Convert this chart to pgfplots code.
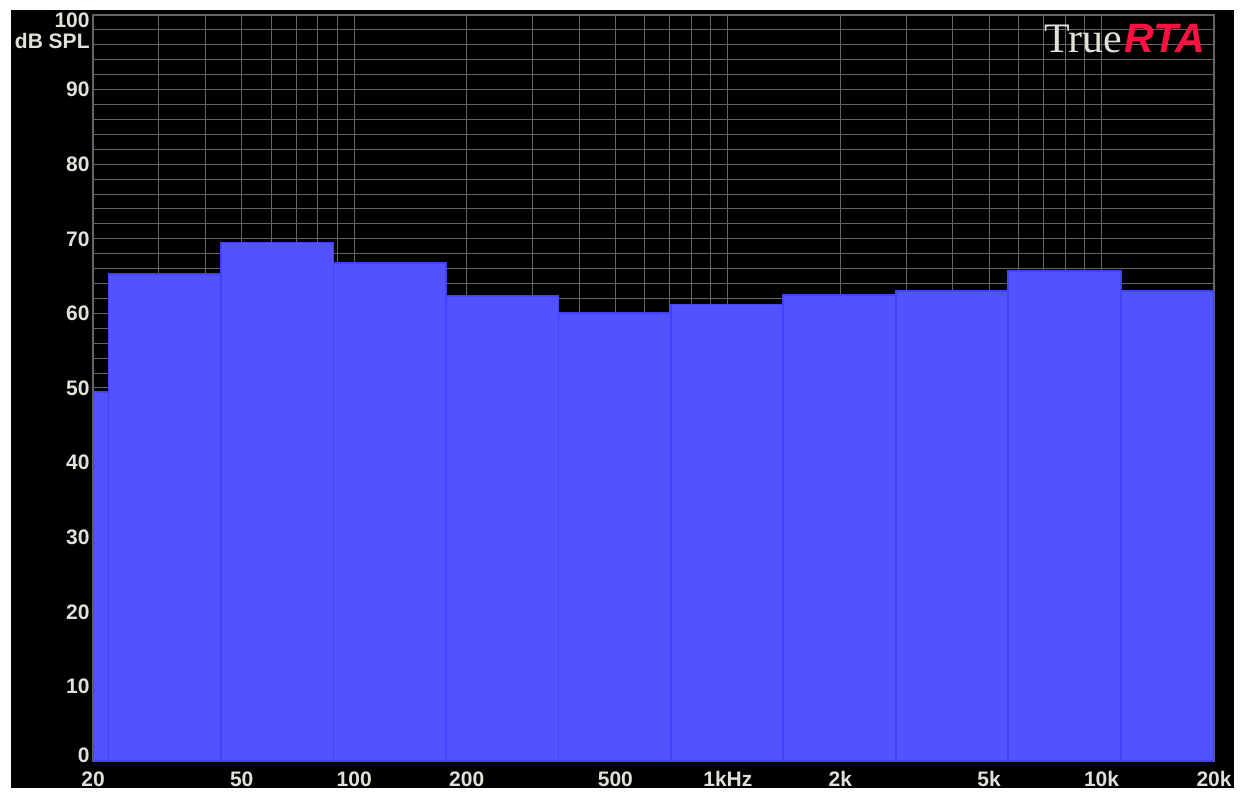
\documentclass[border=0pt]{standalone}
\usepackage{fontspec}
\setmainfont{Liberation Sans}
\newfontfamily\serifT{Liberation Serif}
\usepackage{pgfplots}
\pgfplotsset{compat=1.18}
\definecolor{barblue}{RGB}{82,82,255}
\definecolor{baredge}{RGB}{66,66,250}
\definecolor{gridgray}{RGB}{100,100,100}
\definecolor{lbl}{RGB}{225,225,218}
\definecolor{rtared}{RGB}{255,16,64}
\begin{document}
\begin{tikzpicture}
\fill[white] (0,0) rectangle (622.5pt,396pt);
\fill[black] (5.5pt,2pt) rectangle (617pt,391pt);
\begin{axis}[
  at={(46.5pt,15.5pt)}, anchor=south west,
  scale only axis, width=560.5pt, height=373pt,
  xmode=log, xmin=20, xmax=20000, ymin=0, ymax=100,
  xtick={20,50,100,200,500,1000,2000,5000,10000,20000},
  xticklabels={20,50,100,200,500,1kHz,2k,5k,10k,20k},
  minor xtick={30,40,60,70,80,90,300,400,600,700,800,900,3000,4000,6000,7000,8000,9000},
  ytick={0,10,...,90},
  yticklabels={\raisebox{3pt}[\height][\depth]{0},10,20,30,40,50,60,70,80,90},
  minor ytick={2,4,...,98},
  extra y ticks={100},
  extra y tick style={yticklabel style={anchor=north east, yshift=1.5pt}},
  grid=both,
  major grid style={gridgray, line width=0.5pt},
  minor grid style={gridgray, line width=0.5pt},
  major tick length=0pt, minor tick length=0pt,
  axis line style={gridgray, line width=0.8pt},
  tick label style={font=\fontsize{10.5}{12}\selectfont\bfseries, text=lbl},
  /pgf/number format/assume math mode=true,
  yticklabel style={anchor=east, inner sep=0pt, xshift=-1.5pt},
  xticklabel style={anchor=north, inner sep=0pt, yshift=-5pt},
]
\addplot[ybar interval, fill=barblue, draw=baredge, line width=0.9pt] coordinates {
  (20,49.5) (22,65.3) (44,69.5) (88,66.8) (176,62.3) (352,60.1)
  (704,61.2) (1408,62.5) (2816,63.0) (5632,65.7) (11264,63.0) (20000,63.0)
};
\end{axis}
\node[anchor=base east, inner sep=0pt, text=lbl, font=\fontsize{10.5}{12}\selectfont\bfseries] at (45pt,371.5pt) {dB SPL};
\node[anchor=base east, inner sep=0pt] at (602.5pt,369.5pt) {{\serifT\fontsize{21}{22}\selectfont\color{lbl}True}\hspace{1pt}{\fontsize{20.5}{22}\selectfont\bfseries\itshape\color{rtared}RTA}};
\pgfresetboundingbox
\path[use as bounding box] (0,0) rectangle (622.5pt,396pt);
\end{tikzpicture}
\end{document}
